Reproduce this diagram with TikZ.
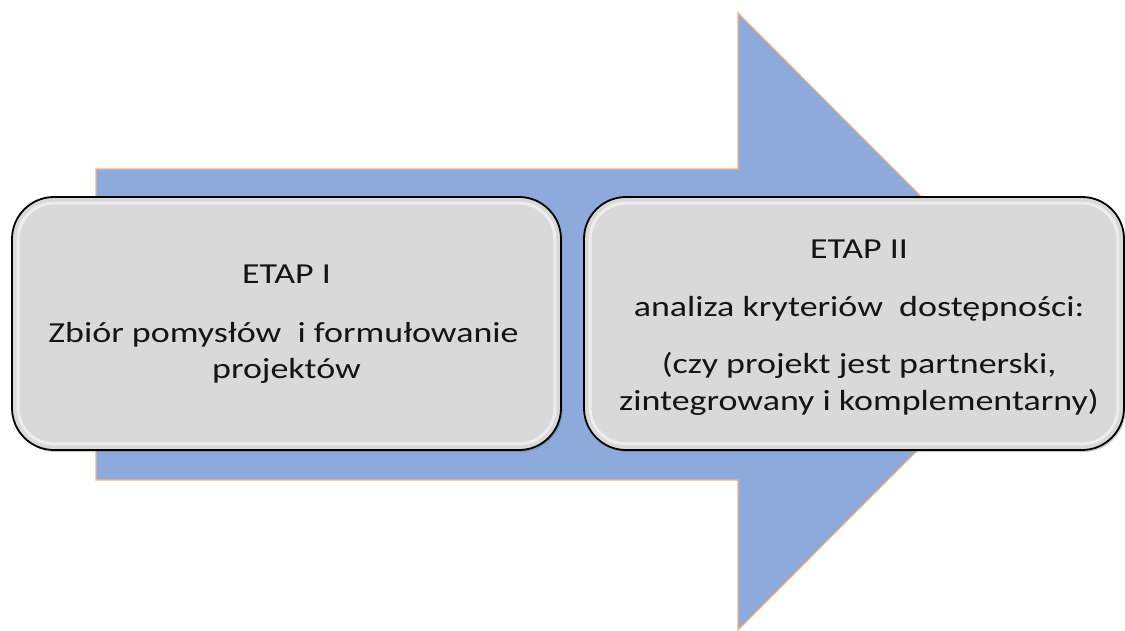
\documentclass[tikz,border=0pt]{standalone}
\usepackage{fontspec}
\setmainfont{Carlito}
\usetikzlibrary{shadows}
\definecolor{arrowblue}{HTML}{8EA9DB}
\definecolor{arroworange}{HTML}{F4B183}
\definecolor{boxgray}{HTML}{D9D9D9}
\newcommand{\wide}[1]{\scalebox{1.24}[1]{#1}}
\tikzset{
  stagebox/.style={draw=black, line width=1.8pt, fill=boxgray, rounded corners=42pt,
    inner sep=0pt, minimum width=#1, minimum height=253pt,
    drop shadow={shadow xshift=1.5pt, shadow yshift=-2pt, opacity=0.35, fill=black!60}},
  gloss/.style={draw=white, line width=3pt, opacity=0.55, rounded corners=36pt},
  txt/.style={anchor=base, inner sep=0pt, font=\fontsize{29}{36}\selectfont, text=black!92}
}
\begin{document}
\begin{tikzpicture}[x=1pt,y=-1pt]
\useasboundingbox (0,0) rectangle (1125,630);
% big arrow
\draw[fill=arrowblue, draw=arroworange, line width=1.2pt, line join=miter]
  (96,169) -- (738,169) -- (738,13) -- (1046,321.5) -- (738,630) -- (738,480) -- (96,480) -- cycle;
% boxes
\node[stagebox=549pt] (b1) at (286.5,323.5) {};
\node[stagebox=540pt] (b2) at (854,323.5) {};
\draw[gloss] ([shift={(7pt,7pt)}]b1.south west) rectangle ([shift={(-7pt,-7pt)}]b1.north east);
\draw[gloss] ([shift={(7pt,7pt)}]b2.south west) rectangle ([shift={(-7pt,-7pt)}]b2.north east);
% texts
\node[txt] (t1a) at (286.5,283) {\wide{ETAP I}};
\node[txt] (t1b) at (283.5,342) {\wide{Zbiór pomysłów\ \ i formułowanie}};
\node[txt] (t1c) at (286.5,378) {\wide{projektów}};
\node[txt] (t2a) at (859,258) {\wide{ETAP II}};
\node[txt] (t2b) at (859,316) {\wide{analiza kryteriów\ \ dostępności:}};
\node[txt] (t2c) at (859,373) {\wide{(czy projekt jest partnerski,}};
\node[txt] (t2d) at (859,410) {\wide{zintegrowany i komplementarny)}};
\end{tikzpicture}
\end{document}
